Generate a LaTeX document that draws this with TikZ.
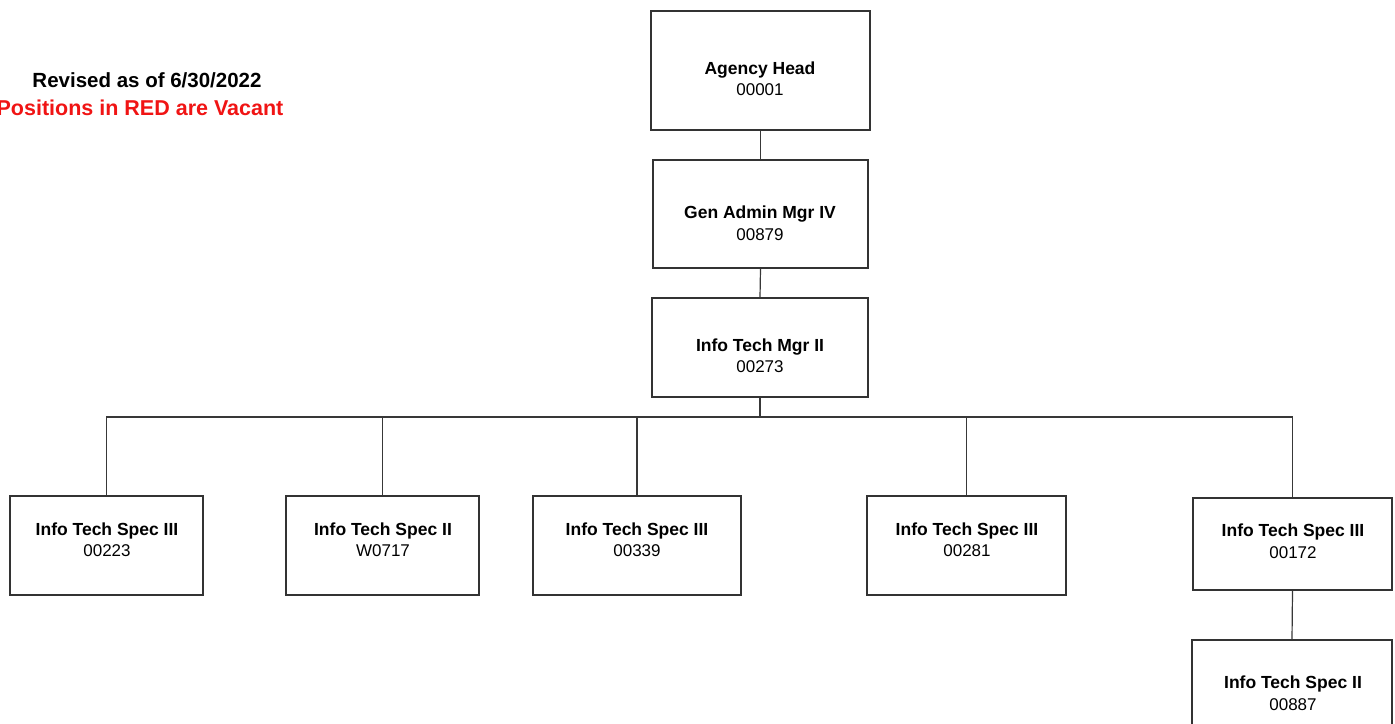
\documentclass[tikz,border=0pt]{standalone}
\usepackage{fontspec}
\setmainfont{Liberation Sans}
\begin{document}
\begin{tikzpicture}[x=1pt,y=-1pt,
  orgbox/.style={draw=black!80,line width=1.2pt,fill=white,inner sep=0pt},
  ttl/.style={font=\bfseries\fontsize{17.5}{21}\selectfont},
  num/.style={font=\fontsize{17}{21}\selectfont},
  link/.style={draw=black!78,line width=1.2pt}]
\useasboundingbox (0,0) rectangle (1395,723);
\clip (0,0) rectangle (1395,723);
\node[font=\bfseries\fontsize{20.5}{24}\selectfont] (rev) at (147,80) {Revised as of 6/30/2022};
\node[font=\bfseries\fontsize{21.5}{25}\selectfont,text={rgb,255:red,240;green,20;blue,20}] (vac) at (140,108) {Positions in RED are Vacant};

\node[orgbox,minimum width=219,minimum height=119] (head) at (760.5,70.5) {};
\node[ttl] (headt) at (760,70) {Agency Head};
\node[num] (headn) at (760,90) {00001};

\node[orgbox,minimum width=215,minimum height=108] (gam) at (760.5,214) {};
\node[ttl] (gamt) at (760,214) {Gen Admin Mgr IV};
\node[num] (gamn) at (760,235) {00879};

\node[orgbox,minimum width=216,minimum height=99] (itm) at (760,347.5) {};
\node[ttl] (itmt) at (760,347) {Info Tech Mgr II};
\node[num] (itmn) at (760,367) {00273};

\node[orgbox,minimum width=193,minimum height=99] (s1) at (106.5,545.5) {};
\node[ttl] (s1t) at (107,531) {Info Tech Spec III};
\node[num] (s1n) at (107,551) {00223};

\node[orgbox,minimum width=193,minimum height=99] (s2) at (382.5,545.5) {};
\node[ttl] (s2t) at (383,531) {Info Tech Spec II};
\node[num] (s2n) at (383,551) {W0717};

\node[orgbox,minimum width=208,minimum height=99] (s3) at (637,545.5) {};
\node[ttl] (s3t) at (637,531) {Info Tech Spec III};
\node[num] (s3n) at (637,551) {00339};

\node[orgbox,minimum width=199,minimum height=99] (s4) at (966.5,545.5) {};
\node[ttl] (s4t) at (967,531) {Info Tech Spec III};
\node[num] (s4n) at (967,551) {00281};

\node[orgbox,minimum width=199,minimum height=92] (s5) at (1292.5,544) {};
\node[ttl] (s5t) at (1293,532) {Info Tech Spec III};
\node[num] (s5n) at (1293,553) {00172};

\node[orgbox,minimum width=200,minimum height=100] (s6) at (1292,690) {};
\node[ttl] (s6t) at (1293,684) {Info Tech Spec II};
\node[num] (s6n) at (1293,705) {00887};

\coordinate (bus) at (760,417);
\draw[link] (head.south) -- (gam.north);
\draw[link] (gam.south) -- (itm.north);
\draw[link] (itm.south) -- (bus);
\draw[link] (s1.north) |- (bus) -| (s5.north);
\draw[link] (s2.north) -- (s2.north |- bus);
\draw[link] (s3.north) -- (s3.north |- bus);
\draw[link] (s4.north) -- (s4.north |- bus);
\draw[link] (s5.south) -- (s6.north);
\end{tikzpicture}
\end{document}
